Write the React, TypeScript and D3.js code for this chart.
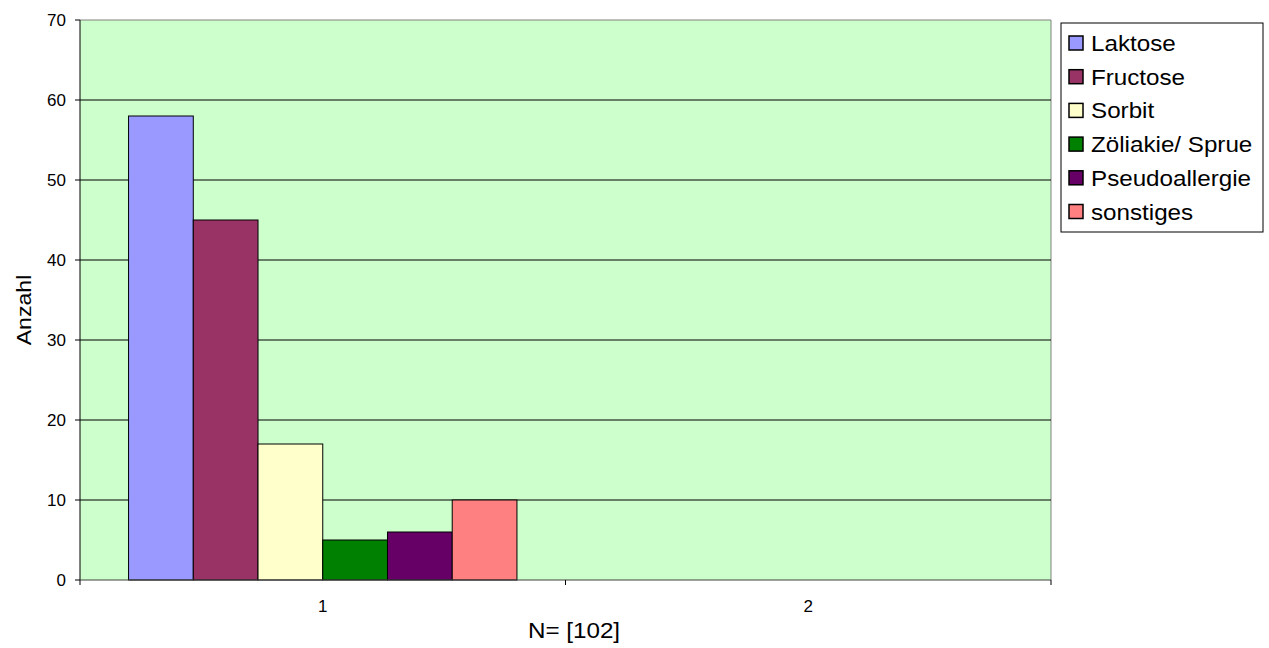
import React from "react";
import * as d3 from "d3";

const categories = ["1", "2"];
const seriesNames = ["Laktose", "Fructose", "Sorbit", "Zöliakie/ Sprue", "Pseudoallergie", "sonstiges"];
const seriesColors = ["#9999FF", "#993366", "#FFFFCC", "#008000", "#660066", "#FF8080"];
const values1 = [58, 45, 17, 5, 6, 10];
const values2 = [0, 0, 0, 0, 0, 0];
const yTicks = [0, 10, 20, 30, 40, 50, 60, 70];

const W = 1269, H = 648;
const L = 80, R = 1051, T = 20, B = 580;
const FONT = "Liberation Sans, Arial, sans-serif";
const SX = 1.1;

export default function App() {
  const x0 = d3.scaleBand<string>().domain(categories).range([L, R]).paddingInner(0).paddingOuter(0);
  const bw = x0.bandwidth();
  const gap = bw / (seriesNames.length + 1.5) * 1.5;
  const x1 = d3.scaleBand<string>().domain(seriesNames).range([gap / 2, bw - gap / 2]).padding(0);
  const y = d3.scaleLinear().domain([0, 70]).range([B, T]);
  const data = [values1, values2];

  return (
    <svg width={W} height={H} style={{ position: "absolute", left: 0, top: 0 }}>
      <rect x={L} y={T} width={R - L} height={B - T} fill="#CCFFCC" stroke="none" />
      <line x1={L} x2={R} y1={T} y2={T} stroke="#808080" />
      <line x1={R} x2={R} y1={T} y2={B} stroke="#808080" />
      {yTicks.filter(t => t > 0 && t < 70).map(t => (
        <line key={t} x1={L} x2={R} y1={y(t)} y2={y(t)} stroke="#000" strokeWidth={1} />
      ))}
      {categories.map((c, ci) =>
        data[ci].map((v, si) =>
          v > 0 ? (
            <rect key={c + si} x={x0(c)! + x1(seriesNames[si])!} y={y(v)} width={x1.bandwidth()} height={B - y(v)}
              fill={seriesColors[si]} stroke="#000" strokeWidth={1} />
          ) : null
        )
      )}
      <line x1={L} x2={L} y1={T} y2={B} stroke="#000" />
      <line x1={L} x2={R} y1={B} y2={B} stroke="#404040" />
      {yTicks.map(t => (
        <g key={t}>
          <line x1={L - 5} x2={L} y1={y(t)} y2={y(t)} stroke="#000" />
          <text x={L - 14} y={y(t)} dy="0.37em" textAnchor="end" fontFamily={FONT} fontSize={17}>{t}</text>
        </g>
      ))}
      {[L, ...categories.map(c => x0(c)! + bw)].map((xx, i) => (
        <line key={i} x1={xx} x2={xx} y1={B} y2={B + 5} stroke="#000" />
      ))}
      {categories.map(c => (
        <text key={c} x={x0(c)! + bw / 2} y={612} textAnchor="middle" fontFamily={FONT} fontSize={17}>{c}</text>
      ))}
      <text transform={`translate(574, 638) scale(${SX},1)`} textAnchor="middle" fontFamily={FONT} fontSize={22}>N= [102]</text>
      <text transform={`translate(31, 310) rotate(-90) scale(${SX},1)`} textAnchor="middle" fontFamily={FONT} fontSize={21}>Anzahl</text>
      <rect x={1061} y={23} width={202} height={209} fill="#fff" stroke="#000" />
      {seriesNames.map((n, i) => {
        const cy = 43 + i * 33.7;
        return (
          <g key={n}>
            <rect x={1069} y={cy - 7} width={14} height={14} fill={seriesColors[i]} stroke="#000" strokeWidth={1.5} />
            <text transform={`translate(1091, ${cy + 8}) scale(${SX},1)`} fontFamily={FONT} fontSize={22}>{n}</text>
          </g>
        );
      })}
    </svg>
  );
}
